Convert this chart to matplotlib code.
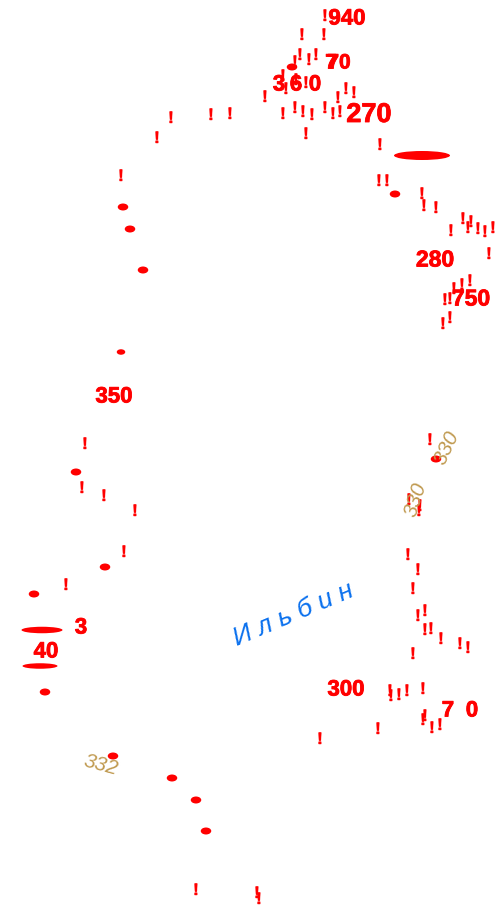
import matplotlib
matplotlib.use("Agg")
import matplotlib.pyplot as plt
from matplotlib.patches import Ellipse
import matplotlib.patheffects as pe

RED = "#ff0000"
TAN = "#c09a50"
BLUE = "#0a70ee"
SANS = ["Liberation Sans", "DejaVu Sans"]

mark_x = [325, 302, 324, 300, 295, 309, 316, 283, 296, 286, 306, 265, 338, 346, 354,
          283, 295, 303, 312, 325, 333, 340, 306, 380,
          171, 211, 230, 157, 121, 85, 82, 104, 135, 124, 66, 196, 257, 259, 320, 378,
          379, 387, 422, 424, 436, 451, 463, 468, 471, 478, 485, 493, 489, 470, 462, 454,
          450, 445, 450, 443,
          430, 409, 420, 419, 408, 418, 413, 418, 425, 425, 431, 441, 460, 468, 413,
          390, 391, 399, 407, 423, 425, 423, 432, 440]
mark_y = [16, 35, 35, 55, 62, 60, 55, 76, 80, 89, 83, 97, 98, 89, 93,
          114, 108, 112, 115, 108, 114, 112, 134, 145,
          118, 115, 114, 138, 176, 444, 488, 496, 511, 552, 585, 890, 893, 899, 739, 729,
          181, 181, 194, 206, 208, 231, 219, 228, 222, 229, 232, 228, 254, 281, 285, 289,
          299, 300, 318, 324,
          440, 500, 506, 511, 555, 570, 589, 616, 611, 630, 629, 639, 644, 648, 654,
          691, 696, 695, 691, 689, 716, 720, 728, 725]

dot_x = [292, 395, 123, 130, 143, 76, 436, 105, 34, 45, 113, 172, 196, 206]
dot_y = [67, 194, 207, 229, 270, 472, 459, 567, 594, 692, 756, 778, 800, 831]

wide_x = [422, 42, 40, 121]
wide_y = [155.5, 630, 666, 352]
wide_w = [56, 41, 35, 8.5]
wide_h = [9, 6.5, 5.5, 5.5]

label_text = ["940", "7", "70", "3", "6", "0", "270", "280", "750", "350", "3", "40", "300", "7", "0"]
label_x = [347, 331, 339, 279, 296, 315, 369, 435, 471, 114, 81, 46, 346, 448, 472]
label_y = [19, 63, 63, 85, 85, 85, 115, 260, 299, 397, 628, 652, 690, 711, 711]
label_size = [16, 15, 15, 16, 16, 16, 19.5, 16.5, 16.5, 16, 16, 16, 16, 16, 16]

tan_text = ["330", "330", "332"]
tan_x = [447, 416, 101]
tan_y = [448, 500, 765]
tan_rot = [65, 72, -15]

fig = plt.figure(figsize=(4.99, 9.16), dpi=100)
ax = fig.add_axes([0, 0, 1, 1])
ax.set_xlim(0, 499)
ax.set_ylim(916, 0)
ax.axis("off")

for x, y in zip(mark_x, mark_y):
    ax.text(x, y + 0.5, "!", color=RED, fontsize=12, fontweight="bold", family=SANS,
            ha="center", va="center",
            path_effects=[pe.withStroke(linewidth=0.3, foreground=RED)])

for x, y in zip(dot_x, dot_y):
    ax.add_patch(Ellipse((x, y), 10.5, 7, color=RED, lw=0))

for x, y, w, h in zip(wide_x, wide_y, wide_w, wide_h):
    ax.add_patch(Ellipse((x, y), w, h, color=RED, lw=0))

for t, x, y, s in zip(label_text, label_x, label_y, label_size):
    ax.text(x, y, t, color=RED, fontsize=s, fontweight="bold", family=SANS,
            ha="center", va="center",
            path_effects=[pe.withStroke(linewidth=0.6, foreground=RED)])

for t, x, y, r in zip(tan_text, tan_x, tan_y, tan_rot):
    ax.text(x, y, t, color=TAN, fontsize=15, fontstyle="italic", fontweight="light",
            family=SANS, rotation=r, rotation_mode="anchor", ha="center", va="center")

ax.text(293, 614, "И л ь б и н", color=BLUE, fontsize=19, fontstyle="italic", family=SANS,
        rotation=23, rotation_mode="anchor", ha="center", va="center")

fig.savefig("out.png", dpi=100, facecolor="white")
